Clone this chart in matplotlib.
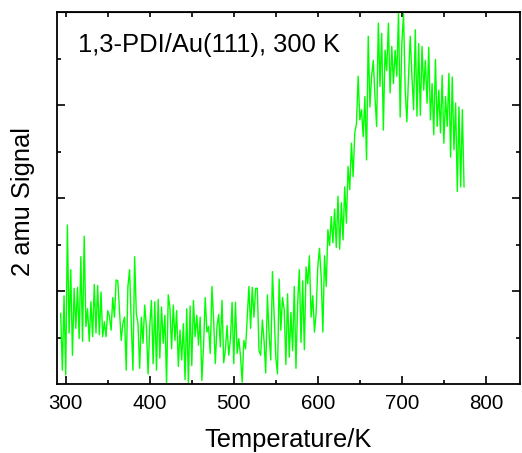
import matplotlib
matplotlib.use('Agg')
import matplotlib.pyplot as plt
import numpy as np

# 2 amu desorption trace (arb. units, 2 K steps from 294 K)
signal_low = [0.76, 0.15, 0.95, 0.10, 1.71, 0.55, 1.23, 0.31, 1.03, 0.60,
              1.04, 0.49, 1.37, 0.46, 1.59, 0.62, 0.81, 0.46, 0.885, 0.51,
              1.07, 0.55, 1.06, 0.53, 0.99, 0.51, 0.67, 0.51, 0.79, 0.73,
              0.58, 0.93, 0.72, 1.12, 1.11, 0.80, 0.47, 0.65, 0.72, 0.15,
              1.05, 1.23, 0.65, 0.15, 1.37, 0.76, 0.65, 0.17, 0.72, 0.44,
              0.85, 0.62, 0.11, 0.62, 0.90, 0.22]
signal_mid = [0.885, 0.15, 0.91, 0.28, 0.83, 0.44, 0.74, 0.0, 0.96, 0.82,
              0.38, 0.85, 0.47, 0.79, 0.19, 0.58, 0.26, 0.65, 0.05, 0.81,
              0.0, 0.84, 0.20, 0.90, 0.51, 0.74, 0.42, 0.72, 0.04, 0.40,
              0.93, 0.56, 0.62, 0.33, 1.05, 0.69, 0.22, 0.62, 0.75, 0.40,
              0.90, 0.23, 0.37, 0.63, 0.31, 0.48, 0.88, 0.22, 0.88, 0.33,
              0.49, 0.30, 0.02, 0.47, 0.38, 0.72, 1.05, 0.60, 1.04]
signal_onset = [0.72, 1.03, 1.03, 0.36, 0.31, 0.69, 0.47, 0.12, 0.96, 0.54,
                0.26, 1.21, 0.76, 0.29, 0.11, 1.13, 0.58, 0.93, 0.80, 0.21,
                0.97, 0.29, 0.77, 0.36, 1.05, 0.17, 0.87, 1.23, 0.45, 1.11,
                0.37, 1.26, 1.08, 1.38, 0.72, 0.95, 0.56, 0.77, 1.26, 1.46,
                1.15, 0.56, 1.38, 1.05, 1.66, 1.49, 1.80, 1.52, 1.88]
signal_rise = [1.47, 2.02, 1.45, 1.95, 1.55, 2.12, 1.73, 2.34, 2.09, 2.59,
               2.23, 2.70, 2.80, 3.31, 2.84, 2.95, 2.66, 3.09, 2.41, 3.74,
               2.98, 3.31, 3.48, 3.09, 2.77, 3.88, 3.20, 3.77, 2.73, 3.59,
               3.37, 3.88, 3.13, 3.63, 3.23, 3.59, 3.31, 3.99, 2.87, 3.66]
signal_peak = [3.98, 3.16, 2.82, 3.32, 3.74, 3.31, 2.95, 3.81, 2.88, 3.66,
               2.89, 3.63, 3.16, 3.48, 3.02, 3.62, 2.84, 3.23, 2.68, 3.49,
               2.77, 3.16, 2.70, 3.32, 2.59, 3.09, 2.77, 3.34, 2.44, 3.30,
               2.52, 3.02, 2.07, 2.98, 2.12, 2.95, 2.12]

signal = signal_low + signal_mid + signal_onset + signal_rise + signal_peak
T_start = 294
T_step = 2
temperature = T_start + T_step * np.arange(len(signal))

plt.rcParams["font.family"] = "Liberation Sans"

fig = plt.figure(figsize=(5.22, 4.53), dpi=100)
ax = fig.add_axes([0.109, 0.152, 0.887, 0.8215])

ax.plot(temperature, signal, color='#00ff00', lw=1.0)

ax.set_xlim(289.5, 840.5)
ax.set_ylim(0, 4)
ax.set_xticks([300, 400, 500, 600, 700, 800])
ax.set_xticks(np.arange(350, 850, 100), minor=True)
ax.set_yticks([1, 2, 3])
ax.set_yticks([0.5, 1.5, 2.5, 3.5], minor=True)
ax.set_yticklabels([])

ax.tick_params(which='both', direction='in', right=True, top=False,
               width=1.2, labelsize=14.8, pad=7)
ax.tick_params(which='major', length=5.5)
ax.tick_params(which='minor', length=3.2)
for s in ax.spines.values():
    s.set_linewidth(1.3)

top = ax.secondary_xaxis('top')
top.set_xticks(np.arange(300, 850, 50))
top.tick_params(direction='in', length=3.4, width=1.2, labeltop=False)

ax.set_xlabel('Temperature/K', fontsize=18.4, labelpad=11)
ax.set_ylabel('2 amu Signal', fontsize=18.4, labelpad=8.5)
ax.yaxis.label.set_y(0.49)

ax.text(0.045, 0.892, '1,3-PDI/Au(111), 300 K', transform=ax.transAxes,
        fontsize=18.4, va='baseline', ha='left')

plt.savefig('out.png', dpi=100)
plt.close()
